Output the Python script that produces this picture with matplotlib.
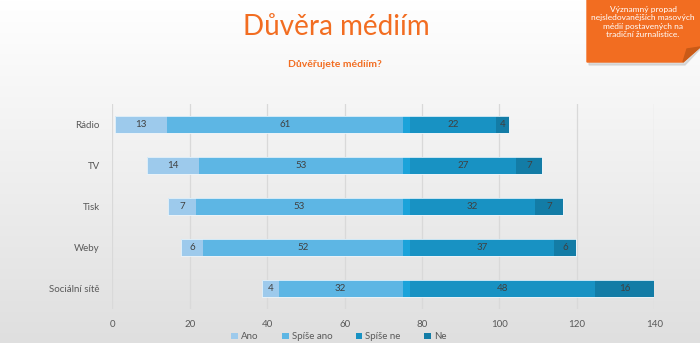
import numpy as np
import matplotlib
matplotlib.use("Agg")
import matplotlib.pyplot as plt
from matplotlib.patches import Polygon

plt.rcParams['font.family'] = ['Lato', 'DejaVu Sans']

# data (percent)
categories = ['Rádio', 'TV', 'Tisk', 'Weby', 'Sociální sítě']
ano = [13.4, 13.5, 7.2, 5.7, 4.2]
spise_ano = [60.9, 52.6, 53.4, 51.6, 32.0]
spise_ne = [22.2, 27.4, 32.3, 37.1, 47.7]
ne = [3.5, 6.6, 7.2, 5.8, 15.5]
series_names = ['Ano', 'Spíše ano', 'Spíše ne', 'Ne']
xticks = [0, 20, 40, 60, 80, 100, 120, 140]

center = 75   # where "spíše ano" ends
gap = 1.9     # bright divider between the two halves

col_ano = '#9dcaec'
col_sano = '#5db6e4'
col_mid = '#1ba3da'
col_sne = '#1892c3'
col_ne = '#137ca6'
orange = '#f26d21'
grey = '#595959'

fig = plt.figure(figsize=(7, 3.43), dpi=100)

# background gradient
bg = fig.add_axes([0, 0, 1, 1], zorder=-10)
grad = np.linspace(1.0, 0.875, 256).reshape(-1, 1)
bg.imshow(np.dstack([grad, grad, grad]), aspect='auto', extent=[0, 1, 0, 1])
bg.set_xlim(0, 1)
bg.set_ylim(0, 1)
bg.axis('off')

ax = fig.add_axes([0.1604, 0.099, 0.7743, 0.598])
ax.patch.set_alpha(0)

y = np.arange(len(categories))
ano_a = np.array(ano)
sano_a = np.array(spise_ano)
sne_a = np.array(spise_ne)
ne_a = np.array(ne)

left_ano = center - sano_a - ano_a
left_sne = np.full(len(y), center + gap)
h = 0.43
kw = dict(height=h, linewidth=0, zorder=3)

b1 = ax.barh(y, ano_a, left=left_ano, color=col_ano, label=series_names[0], **kw)
b2 = ax.barh(y, sano_a, left=center - sano_a, color=col_sano, label=series_names[1], **kw)
ax.barh(y, np.full(len(y), gap), left=center, color=col_mid, **kw)
b3 = ax.barh(y, sne_a, left=left_sne, color=col_sne, label=series_names[2], **kw)
b4 = ax.barh(y, ne_a, left=left_sne + sne_a, color=col_ne, label=series_names[3], **kw)

# thin light outline around each whole bar
starts = left_ano
ends = left_sne + sne_a + ne_a
ax.barh(y, ends - starts, left=starts, height=h, fill=False,
        edgecolor='#eaf4fa', linewidth=0.6, zorder=4)

for bars, vals in [(b1, ano_a), (b2, sano_a), (b3, sne_a), (b4, ne_a)]:
    ax.bar_label(bars, labels=['%.0f' % v for v in vals], label_type='center',
                 fontsize=7, color='#404040')

ax.set_yticks(y)
ax.set_yticklabels(categories)
ax.set_ylim(len(y) - 0.5, -0.5)
ax.set_xlim(0, 140)
ax.set_xticks(xticks)
ax.tick_params(length=0, labelsize=7, labelcolor=grey)
ax.tick_params(axis='y', pad=9)
ax.tick_params(axis='x', pad=8)
ax.grid(axis='x', color='#d9d9d9', linewidth=0.9, zorder=0)
ax.set_axisbelow(True)
for s in ax.spines.values():
    s.set_visible(False)

fig.legend(handles=[b1, b2, b3, b4], labels=series_names, loc='center',
           bbox_to_anchor=(0.484, 0.018), ncol=4, frameon=False, fontsize=7,
           labelcolor=grey, handlelength=0.7, handleheight=0.7,
           handletextpad=0.3, columnspacing=2.4)

# titles
fig.text(0.481, 0.92, 'Důvěra médiím', ha='center', va='center',
         fontsize=20, color=orange)
fig.text(0.479, 0.813, 'Důvěřujete médiím?', ha='center', va='center',
         fontsize=7.5, color=orange, fontweight='bold')

# orange note in the corner
fx = lambda px: px / 700
fy = lambda py: 1 - py / 343
shadow = Polygon([(fx(589), fy(2)), (fx(700), fy(2)), (fx(700), fy(49)),
                  (fx(685), fy(65)), (fx(589), fy(65))],
                 closed=True, transform=fig.transFigure, color='#c8c8c8',
                 alpha=0.6, zorder=1)
note = Polygon([(fx(587), fy(0)), (fx(700), fy(0)), (fx(700), fy(47)),
                (fx(683), fy(62)), (fx(587), fy(62))],
               closed=True, transform=fig.transFigure, color=orange, zorder=2)
fold = Polygon([(fx(700), fy(47)), (fx(683), fy(62)), (fx(687), fy(49))],
               closed=True, transform=fig.transFigure, color='#c95a17', zorder=3)
fig.patches.extend([shadow, note, fold])
fig.text(fx(643), fy(22), 'Významný propad\nnejsledovanějších masových\n'
         'médií postavených na\ntradiční žurnalistice.',
         ha='center', va='center', fontsize=6, color='white',
         linespacing=1.25, zorder=4)

fig.savefig('out.png', dpi=100)
